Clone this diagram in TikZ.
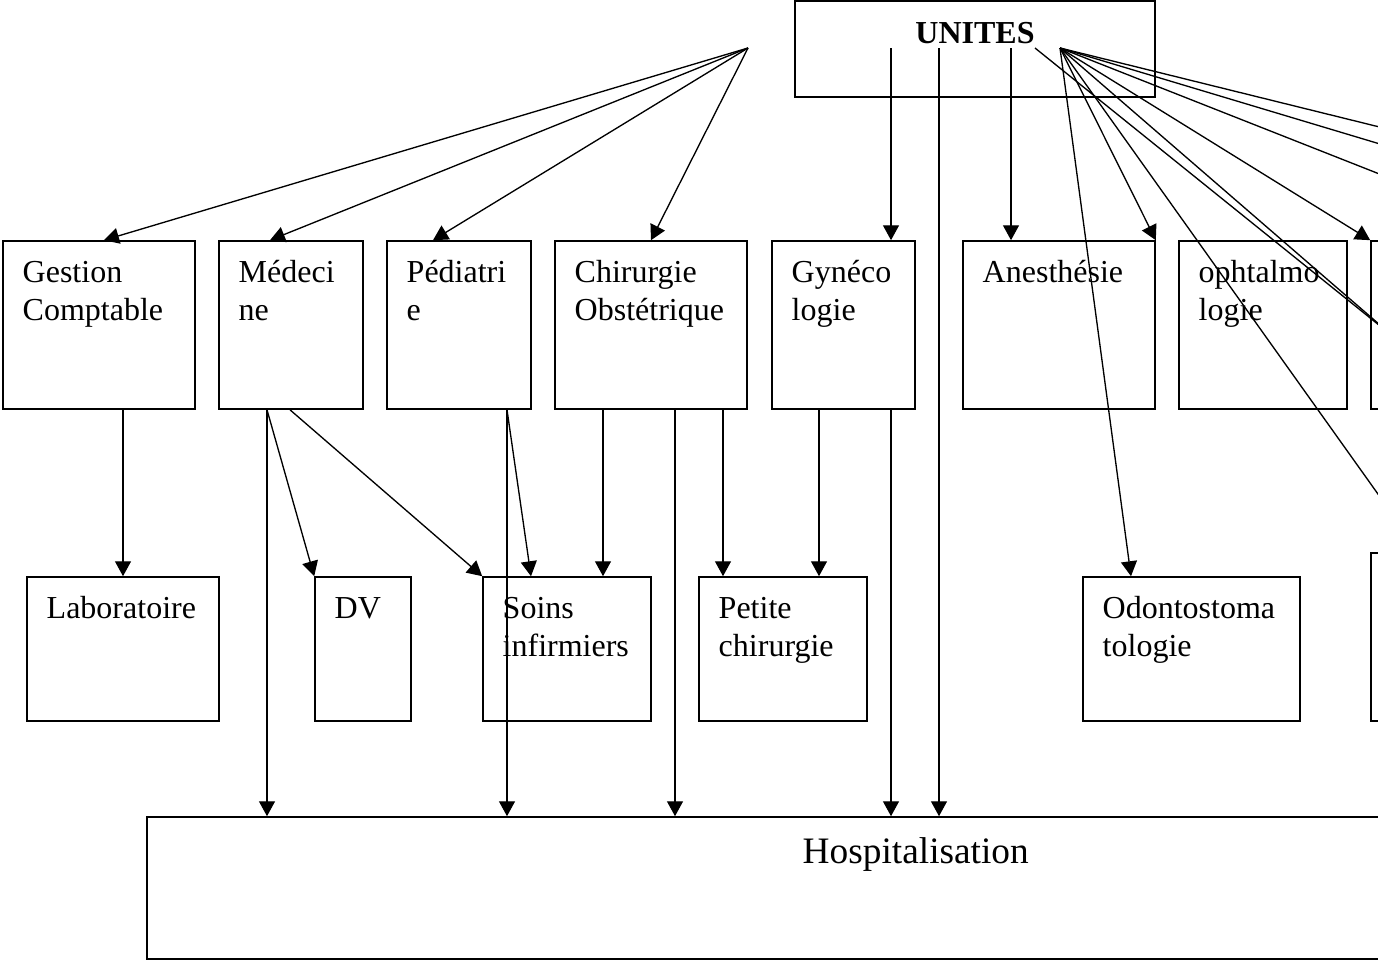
\documentclass[tikz,border=0pt]{standalone}
\usepackage{fontspec}
\setmainfont{Liberation Serif}
\usetikzlibrary{arrows.meta,fit}

\begin{document}
\begin{tikzpicture}
		[x=0.375pt,y=-0.375pt,
		box/.style={rectangle,draw=black,fill=white,line width=.6pt,inner sep=0pt},
		lbl/.style={anchor=north west,align=left,inner sep=0pt,xshift=7.5pt,yshift=-5.7pt,
			font=\fontsize{12}{14.25}\selectfont},
		arr/.style={-{Triangle[length=5.6pt,width=6pt]},line width=.5pt}
		]
		\useasboundingbox (0,0) rectangle (1378,961);
		\clip (0,0) rectangle (1378,961);

		\node[box,fit={(795,1)(1155,97)},
			label={[anchor=base,inner sep=0pt,font=\fontsize{12}{14.25}\selectfont\bfseries,yshift=-16.1pt]north:UNITES}] (unites) {};

		\node[box,fit={(3,241)(195,409)},label={[lbl]north west:\strut Gestion\\Comptable}] (gest) {};
		\node[box,fit={(219,241)(363,409)},label={[lbl]north west:\strut Médeci\\ne}] (med) {};
		\node[box,fit={(387,241)(531,409)},label={[lbl]north west:\strut Pédiatri\\e}] (ped) {};
		\node[box,fit={(555,241)(747,409)},label={[lbl]north west:\strut Chirurgie\\Obstétrique}] (chir) {};
		\node[box,fit={(772,241)(915,409)},label={[lbl]north west:\strut Gynéco\\logie}] (gyn) {};
		\node[box,fit={(963,241)(1155,409)},label={[lbl]north west:\strut Anesthésie}] (anes) {};
		\node[box,fit={(1179,241)(1347,409)},label={[lbl]north west:\strut ophtalmo\\logie}] (opht) {};
		\node[box,fit={(1371,241)(1500,409)}] (autreA) {};

		\node[box,fit={(27,577)(219,721)},label={[lbl]north west:\strut Laboratoire}] (lab) {};
		\node[box,fit={(315,577)(411,721)},label={[lbl]north west:\strut DV}] (dv) {};
		\node[box,fit={(483,577)(651,721)},label={[lbl]north west:\strut Soins\\infirmiers}] (soins) {};
		\node[box,fit={(699,577)(867,721)},label={[lbl]north west:\strut Petite\\chirurgie}] (petite) {};
		\node[box,fit={(1083,577)(1300,721)},label={[lbl]north west:\strut Odontostoma\\tologie}] (odon) {};
		\node[box,fit={(1371,553)(1500,721)}] (autreB) {};

		\node[box,fit={(147,817)(1500,959)},
			label={[anchor=base west,inner sep=0pt,font=\fontsize{14}{16}\selectfont,xshift=246pt,yshift=-17.7pt]north west:Hospitalisation}] (hosp) {};

		\coordinate (fanL) at (748,48);
		\coordinate (fanR) at (1060,48);
		\coordinate (fanS) at (1035,48);
		\coordinate (out1) at (1420,137);
		\coordinate (out2) at (1420,156);
		\coordinate (out3) at (1420,190);
		\coordinate (out4) at (1395,338);
		\coordinate (out5) at (1420,553);

		\draw[arr] (fanL) -- (104,0 |- gest.north);
		\draw[arr] (fanL) -- (270,0 |- med.north);
		\draw[arr] (fanL) -- (433,0 |- ped.north);
		\draw[arr] (fanL) -- (chir.north);

		\draw[arr] (891,0 |- fanL) -- (891,0 |- gyn.north);
		\draw[arr] (939,0 |- fanL) -- (939,0 |- hosp.north);
		\draw[arr] (1011,0 |- fanL) -- (1011,0 |- anes.north);

		\draw[arr] (fanR) -- (1131,0 |- odon.north);
		\draw[arr] (fanR) -- (anes.north east);
		\draw[arr] (fanR) -- (out5);
		\draw[arr] (fanR) -- (out4);
		\draw[arr] (fanS) -- (out4);
		\draw[arr] (fanR) -- (autreA.north west);
		\draw[arr] (fanR) -- (out3);
		\draw[arr] (fanR) -- (out2);
		\draw[arr] (fanR) -- (out1);

		\draw[arr] (gest.south -| lab.north) -- (lab.north);
		\draw[arr] (267,0 |- med.south) -- (267,0 |- hosp.north);
		\draw[arr] (267,0 |- med.south) -- (dv.north west);
		\draw[arr] (290,0 |- med.south) -- (soins.north west);
		\draw[arr] (507,0 |- ped.south) -- (507,0 |- hosp.north);
		\draw[arr] (507,0 |- ped.south) -- (531,0 |- soins.north);
		\draw[arr] (603,0 |- chir.south) -- (603,0 |- soins.north);
		\draw[arr] (675,0 |- chir.south) -- (675,0 |- hosp.north);
		\draw[arr] (723,0 |- chir.south) -- (723,0 |- petite.north);
		\draw[arr] (819,0 |- gyn.south) -- (819,0 |- petite.north);
		\draw[arr] (891,0 |- gyn.south) -- (891,0 |- hosp.north);
	\end{tikzpicture}
\end{document}
